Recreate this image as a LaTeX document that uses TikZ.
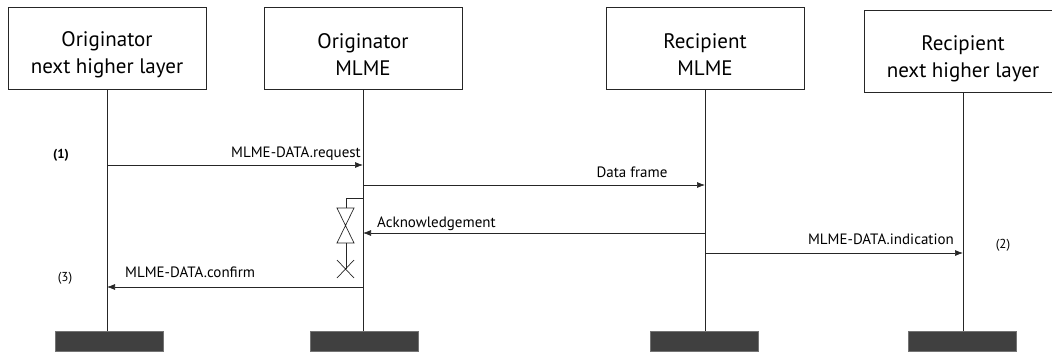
\documentclass[tikz,border=0pt]{standalone}
\usepackage{fontspec}
\setmainfont{PT Sans}
\usetikzlibrary{arrows.meta}
\begin{document}
\begin{tikzpicture}[x=1pt,y=-1pt,
 ent/.style={draw=black!85,line width=0.8pt,minimum width=198pt,minimum height=82pt,inner sep=0pt},
 enttext/.style={align=center,font=\fontsize{21}{27}\selectfont,inner sep=0pt},
 bar/.style={fill=black!75,draw=black!55,line width=0.5pt,minimum width=108pt,minimum height=20pt,inner sep=0pt},
 life/.style={line width=0.7pt,draw=black!85},
 msg/.style={line width=0.7pt,draw=black!85,-{Latex[length=8pt,width=6pt]}},
 lbl/.style={font=\fontsize{15}{17}\selectfont,inner sep=0pt},
 num/.style={font=\fontsize{13}{15}\selectfont,inner sep=0pt}]
\useasboundingbox (0,0) rectangle (1052,351);
\clip (0,0) rectangle (1052,351);
% entities
\node[ent] (b1) at (107,48) {};
\node[ent] (b2) at (363,48) {};
\node[ent] (b3) at (705,48) {};
\node[ent] (b4) at (963,51.5) {};
\node[enttext] (t1) at ([yshift=-7pt]b1.center) {Originator\\next higher layer};
\node[enttext] (t2) at ([yshift=-7pt]b2.center) {Originator\\MLME};
\node[enttext] (t3) at ([yshift=-7pt]b3.center) {Recipient\\MLME};
\node[enttext] (t4) at ([yshift=-7pt]b4.center) {Recipient\\next higher layer};
% end bars
\node[bar] (e1) at (109.5,341) {};
\node[bar] (e2) at (364.5,341) {};
\node[bar] (e3) at (704,341) {};
\node[bar] (e4) at (962.5,341) {};
% lifelines
\draw[life] (b1.south) -- (b1.south |- e1.north);
\draw[life] (b2.south) -- (b2.south |- e2.north);
\draw[life] (b3.south) -- (b3.south |- e3.north);
\draw[life] (b4.south) -- (b4.south |- e4.north);
% message points
\coordinate (r1) at (b1.south |- 0,165);
\coordinate (r2) at (b2.south |- 0,165);
\coordinate (d2) at (b2.south |- 0,185);
\coordinate (d3) at (b3.south |- 0,185);
\coordinate (a3) at (b3.south |- 0,233);
\coordinate (a2) at (b2.south |- 0,233);
\coordinate (i3) at (b3.south |- 0,253);
\coordinate (i4) at (b4.south |- 0,253);
\coordinate (c2) at (b2.south |- 0,287);
\coordinate (c1) at (b1.south |- 0,287);
\coordinate (tm) at (b2.south |- 0,198);
% messages
\draw[msg] (r1) -- (r2);
\draw[msg] (d2) -- (d3);
\draw[msg] (a3) -- (a2);
\draw[msg] (i3) -- (i4);
\draw[msg] (c2) -- (c1);
% labels
\node[lbl,anchor=base east] (lr) at (361,157) {MLME-DATA.request};
\node[lbl,anchor=base] (ld) at (632,177) {Data frame};
\node[lbl,anchor=base west] (la) at (377,227) {Acknowledgement};
\node[lbl,anchor=base east] (li) at (954,244) {MLME-DATA.indication};
\node[lbl,anchor=base west] (lc) at (125,277) {MLME-DATA.confirm};
\node[num,anchor=base,font=\fontsize{13}{15}\selectfont\bfseries] (n1) at (61,158) {(1)};
\node[num,anchor=base] (n2) at (1003,248) {(2)};
\node[num,anchor=base] (n3) at (65,281) {(3)};
% timer
\draw[line width=0.7pt,draw=black!85] (tm) -- (346,198) -- (346,208);
\draw[line width=0.7pt,draw=black!85] (337,208) -- (354,208) -- (337,243) -- (354,243) -- cycle;
\draw[line width=0.7pt,draw=black!85] (346,243) -- (346,269);
\draw[line width=0.7pt,draw=black!85] (337,260) -- (354,278) (337,278) -- (354,260);
\end{tikzpicture}
\end{document}
